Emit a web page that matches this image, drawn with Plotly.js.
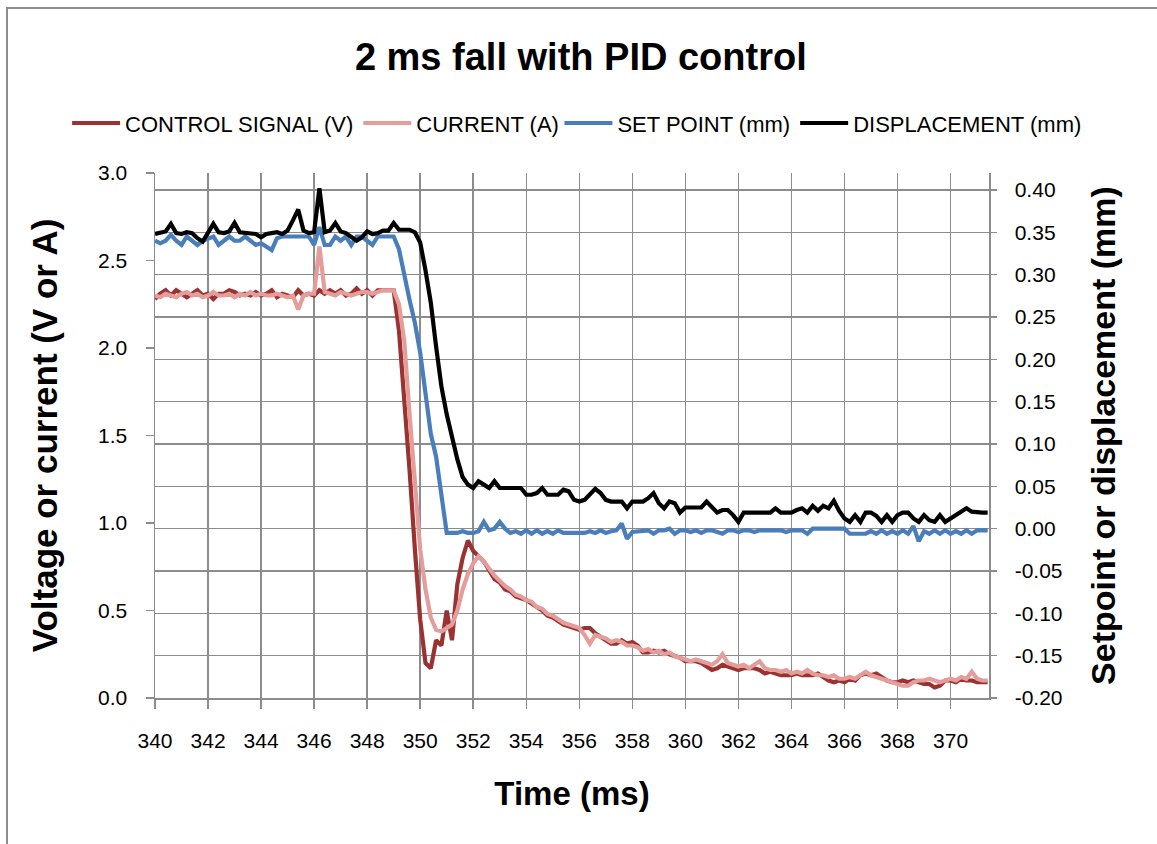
<!DOCTYPE html>
<html>
<head>
<meta charset="utf-8">
<script src="https://cdn.plot.ly/plotly-3.0.1.min.js"></script>
<style>
  html, body { margin:0; padding:0; background:#ffffff; }
  #chart { position:absolute; left:0; top:0; width:1157px; height:844px; }
  #frame { position:absolute; left:6px; top:7px; width:1300px; height:1000px;
           border-left:2px solid #8c8c8c; border-top:2px solid #8c8c8c; pointer-events:none; }
</style>
</head>
<body>
<div id="chart"></div>
<div id="frame"></div>
<script>
// Time axis (ms), one sample every 0.2 ms
const timeMs = [
  340.0,340.2,340.4,340.6,340.8,341.0,341.2,341.4,341.6,341.8,
  342.0,342.2,342.4,342.6,342.8,343.0,343.2,343.4,343.6,343.8,
  344.0,344.2,344.4,344.6,344.8,345.0,345.2,345.4,345.6,345.8,
  346.0,346.2,346.4,346.6,346.8,347.0,347.2,347.4,347.6,347.8,
  348.0,348.2,348.4,348.6,348.8,349.0,349.2,349.4,349.6,349.8,
  350.0,350.2,350.4,350.6,350.8,351.0,351.2,351.4,351.6,351.8,
  352.0,352.2,352.4,352.6,352.8,353.0,353.2,353.4,353.6,353.8,
  354.0,354.2,354.4,354.6,354.8,355.0,355.2,355.4,355.6,355.8,
  356.0,356.2,356.4,356.6,356.8,357.0,357.2,357.4,357.6,357.8,
  358.0,358.2,358.4,358.6,358.8,359.0,359.2,359.4,359.6,359.8,
  360.0,360.2,360.4,360.6,360.8,361.0,361.2,361.4,361.6,361.8,
  362.0,362.2,362.4,362.6,362.8,363.0,363.2,363.4,363.6,363.8,
  364.0,364.2,364.4,364.6,364.8,365.0,365.2,365.4,365.6,365.8,
  366.0,366.2,366.4,366.6,366.8,367.0,367.2,367.4,367.6,367.8,
  368.0,368.2,368.4,368.6,368.8,369.0,369.2,369.4,369.6,369.8,
  370.0,370.2,370.4,370.6,370.8,371.0,371.2,371.4
];

// CONTROL SIGNAL (V) - left axis
const controlSignal = [
  2.28,2.31,2.33,2.30,2.33,2.31,2.29,2.31,2.33,2.30,
  2.31,2.28,2.31,2.31,2.33,2.32,2.30,2.31,2.30,2.32,
  2.30,2.31,2.33,2.29,2.31,2.30,2.29,2.33,2.30,2.31,
  2.30,2.33,2.31,2.33,2.31,2.33,2.30,2.31,2.34,2.31,
  2.33,2.30,2.33,2.33,2.33,2.33,2.10,1.72,1.30,0.85,
  0.45,0.20,0.17,0.33,0.30,0.50,0.33,0.65,0.80,0.90,
  0.84,0.81,0.78,0.73,0.68,0.66,0.62,0.61,0.58,0.57,
  0.56,0.54,0.52,0.50,0.47,0.46,0.44,0.42,0.41,0.40,
  0.39,0.40,0.40,0.37,0.35,0.33,0.31,0.31,0.33,0.31,
  0.32,0.30,0.26,0.26,0.27,0.26,0.27,0.25,0.24,0.23,
  0.21,0.21,0.21,0.20,0.18,0.16,0.17,0.19,0.18,0.17,
  0.16,0.17,0.17,0.17,0.16,0.14,0.15,0.14,0.13,0.13,
  0.13,0.14,0.13,0.13,0.13,0.14,0.12,0.10,0.09,0.10,
  0.09,0.11,0.10,0.13,0.14,0.13,0.14,0.12,0.10,0.09,
  0.09,0.10,0.09,0.10,0.09,0.08,0.08,0.06,0.07,0.10,
  0.10,0.09,0.11,0.10,0.10,0.09,0.09,0.09
];

// CURRENT (A) - left axis
const currentA = [
  2.30,2.29,2.31,2.30,2.29,2.31,2.32,2.30,2.31,2.29,
  2.30,2.32,2.30,2.30,2.31,2.29,2.31,2.30,2.32,2.30,
  2.31,2.30,2.30,2.31,2.30,2.29,2.30,2.22,2.30,2.31,
  2.31,2.58,2.32,2.31,2.30,2.32,2.31,2.30,2.31,2.32,
  2.32,2.31,2.32,2.33,2.33,2.33,2.25,2.04,1.62,1.20,
  0.85,0.62,0.46,0.39,0.38,0.40,0.42,0.50,0.62,0.71,
  0.77,0.81,0.78,0.74,0.70,0.67,0.64,0.62,0.59,0.58,
  0.56,0.55,0.52,0.51,0.48,0.47,0.45,0.43,0.42,0.41,
  0.40,0.36,0.31,0.36,0.35,0.34,0.32,0.33,0.32,0.30,
  0.30,0.29,0.27,0.28,0.26,0.27,0.25,0.26,0.24,0.23,
  0.22,0.21,0.22,0.21,0.20,0.19,0.21,0.25,0.20,0.19,
  0.18,0.19,0.17,0.19,0.21,0.17,0.16,0.16,0.15,0.16,
  0.14,0.15,0.14,0.16,0.14,0.13,0.13,0.12,0.13,0.11,
  0.11,0.12,0.11,0.13,0.15,0.13,0.12,0.11,0.10,0.09,
  0.08,0.07,0.07,0.09,0.10,0.10,0.11,0.10,0.09,0.10,
  0.11,0.10,0.12,0.11,0.15,0.11,0.10,0.10
];

// SET POINT (mm) - right axis
const setPoint = [
  0.340,0.337,0.340,0.347,0.340,0.335,0.345,0.340,0.335,0.340,
  0.343,0.345,0.335,0.340,0.345,0.340,0.340,0.345,0.340,0.335,
  0.337,0.333,0.329,0.343,0.345,0.345,0.345,0.345,0.345,0.345,
  0.335,0.356,0.335,0.335,0.345,0.340,0.345,0.335,0.345,0.345,
  0.340,0.335,0.345,0.345,0.345,0.345,0.330,0.298,0.270,0.243,
  0.208,0.160,0.112,0.085,0.038,-0.005,-0.005,-0.005,-0.003,-0.005,
  -0.005,-0.003,0.008,-0.002,0.000,0.008,0.000,-0.005,-0.003,-0.006,
  -0.002,-0.006,-0.002,-0.006,-0.003,-0.006,-0.002,-0.005,-0.005,-0.005,
  -0.005,-0.005,-0.003,-0.005,-0.002,-0.005,-0.003,-0.002,0.006,-0.012,
  -0.004,-0.003,-0.003,-0.002,-0.006,-0.002,-0.002,0.000,-0.006,-0.002,
  -0.002,-0.004,-0.002,-0.005,-0.002,-0.002,-0.004,-0.006,-0.002,-0.002,
  -0.004,-0.002,-0.002,-0.004,-0.002,-0.002,-0.002,-0.002,-0.002,-0.004,
  -0.002,-0.002,-0.002,-0.006,0.000,0.000,0.000,0.000,0.000,0.000,
  0.000,-0.006,-0.006,-0.006,-0.006,-0.003,-0.006,-0.002,-0.006,-0.003,
  -0.006,-0.002,-0.006,0.003,-0.015,-0.003,-0.006,-0.002,-0.006,-0.002,
  -0.006,-0.003,-0.006,-0.002,-0.006,-0.002,-0.002,-0.002
];

// DISPLACEMENT (mm) - right axis
const displacement = [
  0.348,0.349,0.351,0.360,0.349,0.348,0.350,0.349,0.343,0.339,
  0.349,0.360,0.350,0.349,0.351,0.361,0.350,0.349,0.348,0.348,
  0.344,0.348,0.349,0.350,0.348,0.352,0.364,0.377,0.352,0.349,
  0.350,0.402,0.350,0.352,0.361,0.351,0.349,0.345,0.340,0.344,
  0.351,0.348,0.349,0.352,0.352,0.361,0.353,0.353,0.353,0.350,
  0.338,0.305,0.267,0.215,0.168,0.135,0.107,0.082,0.061,0.052,
  0.048,0.056,0.052,0.048,0.056,0.048,0.048,0.048,0.048,0.048,
  0.040,0.040,0.042,0.048,0.040,0.040,0.040,0.046,0.044,0.034,
  0.032,0.034,0.040,0.047,0.042,0.034,0.032,0.032,0.032,0.024,
  0.032,0.032,0.032,0.036,0.042,0.030,0.024,0.032,0.030,0.019,
  0.025,0.025,0.025,0.025,0.032,0.026,0.019,0.022,0.022,0.016,
  0.008,0.019,0.019,0.019,0.019,0.019,0.019,0.024,0.019,0.019,
  0.019,0.022,0.024,0.019,0.027,0.021,0.027,0.024,0.033,0.021,
  0.012,0.008,0.016,0.008,0.019,0.019,0.015,0.008,0.016,0.008,
  0.016,0.019,0.019,0.012,0.008,0.016,0.010,0.008,0.016,0.008,
  0.012,0.016,0.019,0.024,0.020,0.019,0.019,0.019
];

// Tick values and labels
const xTickVals = [340,342,344,346,348,350,352,354,356,358,360,362,364,366,368,370];
const xTickText = ['340','342','344','346','348','350','352','354','356','358','360','362','364','366','368','370'];
const yLeftTickVals = [0,0.5,1.0,1.5,2.0,2.5,3.0];
const yLeftTickText = ['0.0','0.5','1.0','1.5','2.0','2.5','3.0'];
const yRightTickVals = [-0.20,-0.15,-0.10,-0.05,0.00,0.05,0.10,0.15,0.20,0.25,0.30,0.35,0.40];
const yRightTickText = ['-0.20','-0.15','-0.10','-0.05','0.00','0.05','0.10','0.15','0.20','0.25','0.30','0.35','0.40'];

const seriesNames = ['CONTROL SIGNAL (V)','CURRENT (A)','SET POINT (mm)','DISPLACEMENT (mm)'];

const GRID = '#8c8c8c';
const FONT = 'Liberation Sans, Arial, sans-serif';
const LW = 4.2;

const traces = [
  {x: timeMs, y: controlSignal, name: seriesNames[0], type: 'scatter', mode: 'lines',
   line: {color: '#9b3232', width: LW}, yaxis: 'y', legend: 'legend'},
  {x: timeMs, y: currentA, name: seriesNames[1], type: 'scatter', mode: 'lines',
   line: {color: '#e49d9b', width: LW}, yaxis: 'y', legend: 'legend'},
  {x: timeMs, y: setPoint, name: seriesNames[2], type: 'scatter', mode: 'lines',
   line: {color: '#4a7ebb', width: LW}, yaxis: 'y2', legend: 'legend2'},
  {x: timeMs, y: displacement, name: seriesNames[3], type: 'scatter', mode: 'lines',
   line: {color: '#000000', width: LW}, yaxis: 'y2', legend: 'legend2'}
];

const legendBase = {orientation: 'h', xref: 'container', yref: 'container', xanchor: 'left',
  y: 0.854, yanchor: 'middle', font: {family: FONT, size: 22, color: '#000'},
  itemwidth: 48, bgcolor: 'rgba(0,0,0,0)', borderwidth: 0, traceorder: 'normal'};

const layout = {
  width: 1157, height: 844,
  margin: {l: 155, r: 168, t: 173, b: 146, pad: 0},
  paper_bgcolor: 'rgba(0,0,0,0)', plot_bgcolor: '#ffffff',
  font: {family: FONT, color: '#000000', size: 21},
  title: {text: '2 ms fall with PID control', font: {family: FONT, size: 38, weight: 700, color: '#000'},
          xref: 'container', x: 0.502, xanchor: 'center', yref: 'container', y: 0.9325, yanchor: 'middle'},
  showlegend: true,
  legend: Object.assign({}, legendBase, {x: 0.058}),
  legend2: Object.assign({}, legendBase, {x: 0.4835}),
  xaxis: {range: [340, 371.45], tickmode: 'array', tickvals: xTickVals, ticktext: xTickText,
          ticks: 'outside', ticklen: 9, tickwidth: 1.5, tickcolor: GRID,
          showgrid: true, gridcolor: GRID, gridwidth: 1.5, zeroline: false,
          showline: true, linecolor: GRID, linewidth: 1.5,
          tickfont: {size: 21, color: '#000'}, ticklabelstandoff: 14,
          title: {text: 'Time (ms)', font: {size: 33, weight: 700, color: '#000'}, standoff: 31}},
  yaxis: {range: [0, 3.0], tickmode: 'array', tickvals: yLeftTickVals, ticktext: yLeftTickText,
          ticks: 'outside', ticklen: 8, tickwidth: 1.5, tickcolor: GRID,
          showgrid: false, zeroline: false, showline: true, linecolor: GRID, linewidth: 1.5,
          tickfont: {size: 21, color: '#000'}, ticklabelstandoff: 14,
          title: {text: 'Voltage or current (V or A)', font: {size: 35, weight: 700, color: '#000'}, standoff: 30}},
  yaxis2: {range: [-0.2, 0.42], overlaying: 'y', side: 'right', tickmode: 'array',
           tickvals: yRightTickVals, ticktext: yRightTickText,
           ticks: 'outside', ticklen: 6, tickwidth: 1.5, tickcolor: GRID,
           showgrid: true, gridcolor: GRID, gridwidth: 1.5, zeroline: false,
           showline: true, linecolor: GRID, linewidth: 1.5,
           tickfont: {size: 21, color: '#000'}, ticklabelstandoff: 14,
           title: {text: 'Setpoint or displacement (mm)', font: {size: 34, weight: 700, color: '#000'}, standoff: 29}}
};

Plotly.newPlot('chart', traces, layout, {displayModeBar: false, staticPlot: true});
</script>
</body>
</html>
